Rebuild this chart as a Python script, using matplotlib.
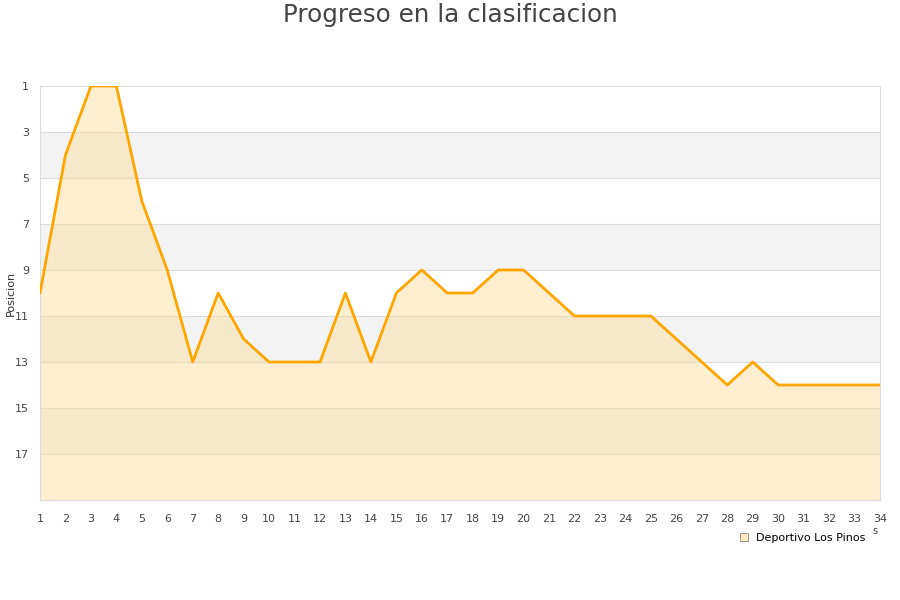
import numpy as np
import matplotlib.pyplot as plt

jornadas = list(range(1, 35))
posicion = [10, 4, 1, 1, 6, 9, 13, 10, 12, 13, 13, 13, 10, 13, 10, 9, 10, 10, 9, 9,
            10, 11, 11, 11, 11, 12, 13, 14, 13, 14, 14, 14, 14, 14]
equipo = "Deportivo Los Pinos"
ytick_vals = [1, 3, 5, 7, 9, 11, 13, 15, 17]

fig = plt.figure(figsize=(9, 6), dpi=100)
ax = fig.add_axes([40 / 900, 100 / 600, 840 / 900, 414 / 600])

# franjas alternas de fondo
for i, lo in enumerate(range(1, 19, 2)):
    if i % 2 == 1:
        ax.axhspan(lo, lo + 2, color="#f3f3f3", zorder=0, lw=0)
for v in ytick_vals[1:]:
    ax.axhline(v, color="#dcdcdc", lw=0.8, zorder=1)

ax.fill_between(jornadas, posicion, 19, color="#ffd98a", alpha=0.4, lw=0, zorder=2)
ax.plot(jornadas, posicion, color="#ffa500", lw=2.0, zorder=3)

ax.set_xlim(1, 34)
ax.set_ylim(19, 1)
ax.set_xticks(jornadas)
ax.set_yticks(ytick_vals)
ax.tick_params(length=0, labelsize=8, colors="#444444", pad=10)
ax.tick_params(axis="y", pad=8)
for s in ax.spines.values():
    s.set_color("#dcdcdc")
fig.text(11 / 900, 1 - 293 / 600, "Posicion", rotation=90, fontsize=8, color="#333333",
         ha="center", va="center")

fig.text(0.5, 1 - 15 / 600, "Progreso en la clasificacion", ha="center", va="center",
         fontsize=17.7, color="#444444")

ax.legend([plt.Rectangle((0, 0), 1, 1, fc="#ffeac2", ec="#888888", lw=0.6)], [equipo],
          loc="upper right", bbox_to_anchor=(0.995, -0.055), frameon=False,
          fontsize=8, handlelength=0.7, handleheight=0.7, handletextpad=0.8)
fig.text(875 / 900, 1 - 531 / 600, "s", fontsize=7, color="#444444", ha="center", va="center")

fig.savefig("out.png", dpi=100)
